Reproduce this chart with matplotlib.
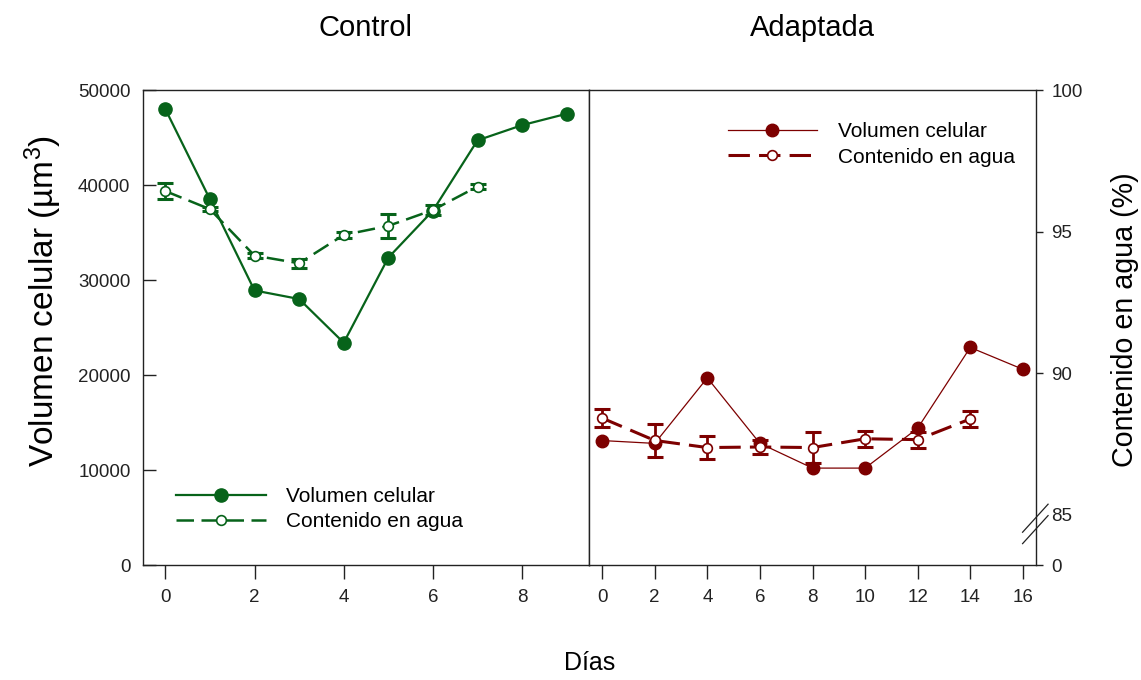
import numpy as np
import matplotlib
matplotlib.use("Agg")
import matplotlib.pyplot as plt
from matplotlib.lines import Line2D
from matplotlib.ticker import NullLocator

plt.rcParams["font.family"] = ["Liberation Sans", "DejaVu Sans"]
plt.rcParams["mathtext.fontset"] = "custom"
plt.rcParams["mathtext.rm"] = "Liberation Sans"
plt.rcParams["mathtext.it"] = "Liberation Sans:italic"

# ---- Control ----
control_days = [0, 1, 2, 3, 4, 5, 6, 7, 8, 9]
control_volume = [48000, 38500, 28900, 28000, 23400, 32350, 37300, 44700, 46300, 47500]
control_water_days = [0, 1, 2, 3, 4, 5, 6, 7]
control_water = [96.43, 95.79, 94.15, 93.88, 94.88, 95.20, 95.76, 96.59]
control_water_err = [0.28, 0.06, 0.08, 0.15, 0.10, 0.43, 0.18, 0.10]

# ---- Adaptada ----
adapt_days = [0, 2, 4, 6, 8, 10, 12, 14, 16]
adapt_volume = [13100, 12800, 19700, 12800, 10200, 10200, 14400, 22900, 20600]
adapt_water_days = [0, 2, 4, 6, 8, 10, 12, 14]
adapt_water = [88.41, 87.62, 87.37, 87.39, 87.37, 87.68, 87.65, 88.38]
adapt_water_err = [0.32, 0.59, 0.40, 0.25, 0.55, 0.28, 0.28, 0.28]

volume_ticks = [0, 10000, 20000, 30000, 40000, 50000]
water_ticks = [0, 85, 90, 95, 100]
control_xticks = [0, 2, 4, 6, 8]
adapt_xticks = [0, 2, 4, 6, 8, 10, 12, 14, 16]

GREEN = "#07631a"
RED = "#7d0000"
INK = "#222222"

# Broken percent axis: 0-85 compressed into the bottom strip, 85-100 linear above
BREAK = 85.0
BREAK_V = 5300.0
SLOPE = 2980.0


def pct_forward(p):
    p = np.asarray(p, dtype=float)
    return np.where(p <= BREAK, p * BREAK_V / BREAK, BREAK_V + (p - BREAK) * SLOPE)


def pct_inverse(v):
    v = np.asarray(v, dtype=float)
    return np.where(v <= BREAK_V, v * BREAK / BREAK_V, BREAK + (v - BREAK_V) / SLOPE)


fig = plt.figure(figsize=(11.41, 6.80), dpi=100)
left, bottom, height = 143 / 1141, 1 - 565 / 680, 475 / 680
ax1 = fig.add_axes([left, bottom, 446 / 1141, height])
ax2 = fig.add_axes([589 / 1141, bottom, 447 / 1141, height])

# twin percent axes
axw1 = ax1.twinx()
axw2 = ax2.twinx()

tick_fs = 13.5
for ax in (ax1, ax2):
    ax.set_ylim(0, 50000)
    for s in ax.spines.values():
        s.set_linewidth(1.0)
        s.set_color(INK)
    ax.tick_params(axis="x", direction="out", length=10, width=1.0,
                   labelsize=tick_fs, pad=7, colors=INK)

ax1.set_xlim(-0.5, 9.5)
ax1.set_xticks(control_xticks)
ax1.set_yticks(volume_ticks)
ax1.tick_params(axis="y", left=True, right=False, direction="in", length=9,
                width=1.0, labelsize=tick_fs, pad=9, colors=INK)
ax1.set_ylabel("Volumen celular (µm$^{3}$)", fontsize=24)
ax1.yaxis.set_label_coords(-0.178, 0.556)

ax2.set_xlim(-0.5, 16.5)
ax2.set_xticks(adapt_xticks)
ax2.tick_params(axis="y", left=False, right=False, labelleft=False, labelright=False)

for axw in (axw1, axw2):
    axw.set_yscale("function", functions=(pct_forward, pct_inverse))
    axw.set_ylim(0, 100)
    axw.yaxis.set_minor_locator(NullLocator())
    for s in axw.spines.values():
        s.set_visible(False)
axw1.tick_params(axis="y", left=False, right=False, labelleft=False, labelright=False)
axw2.set_yticks(water_ticks)
axw2.tick_params(axis="y", left=False, right=True, direction="out", length=5,
                 width=1.0, labelsize=tick_fs, pad=6, colors=INK)
axw2.yaxis.get_major_ticks()[1].tick2line.set_visible(False)
axw2.set_ylabel("Contenido en agua (%)", fontsize=20.6)
axw2.yaxis.set_label_coords(1.168, 0.516)

# Control panel
vol1, = ax1.plot(control_days, control_volume, color=GREEN, lw=1.6,
                 marker="o", ms=9.5, mfc=GREEN, mec=GREEN, zorder=3)
axw1.errorbar(control_water_days, control_water, yerr=control_water_err,
              fmt="none", ecolor=GREEN, elinewidth=2.0, capsize=5.5,
              capthick=2.2, zorder=2)
wat1, = axw1.plot(control_water_days, control_water, color=GREEN, lw=1.8,
                  dashes=(7, 3), marker="o", ms=7, mfc="white", mec=GREEN,
                  mew=1.2, zorder=3)

# Adaptada panel
vol2, = ax2.plot(adapt_days, adapt_volume, color=RED, lw=0.9,
                 marker="o", ms=9, mfc=RED, mec=RED, zorder=3)
axw2.errorbar(adapt_water_days, adapt_water, yerr=adapt_water_err,
              fmt="none", ecolor=RED, elinewidth=2.0, capsize=5.5,
              capthick=2.2, zorder=2)
wat2, = axw2.plot(adapt_water_days, adapt_water, color=RED, lw=2.2,
                  dashes=(7, 3), marker="o", ms=7, mfc="white", mec=RED,
                  mew=1.2, zorder=3)

labels = ["Volumen celular", "Contenido en agua"]
leg_kw = dict(frameon=False, fontsize=15, handlelength=4.3, handletextpad=1.0,
              labelspacing=0.3, borderpad=0, borderaxespad=0, numpoints=1)
axw1.legend([vol1, wat1], labels, loc="upper left",
            bbox_to_anchor=(0.074, 0.164), **leg_kw)
axw2.legend([vol2, wat2], labels, loc="upper left",
            bbox_to_anchor=(0.31, 0.932), **leg_kw)

# axis break marks on the percent axis
yb = 0.088
for off in (-0.012, 0.012):
    ax2.add_line(Line2D([1 - 0.03, 1 + 0.027], [yb - 0.031 + off, yb + 0.028 + off],
                        transform=ax2.transAxes, color=INK, lw=0.9,
                        clip_on=False, zorder=10))

for ax, title in ((ax1, "Control"), (ax2, "Adaptada")):
    ax.text(0.5, 1.1305, title, transform=ax.transAxes, fontsize=21,
            ha="center", va="center")
fig.text(590 / 1141, 1 - 663 / 680, "Días", fontsize=18, ha="center", va="center")

fig.savefig("out.png", dpi=100)
